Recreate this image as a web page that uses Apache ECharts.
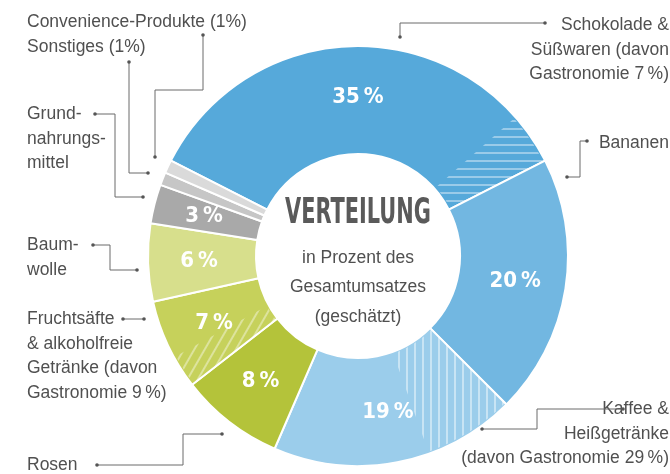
<!DOCTYPE html>
<html>
<head>
<meta charset="utf-8">
<script src="https://cdn.jsdelivr.net/npm/echarts@6/dist/echarts.min.js"></script>
<style>
html,body{margin:0;padding:0;background:#fff;}
#c{width:670px;height:474px;}
</style>
</head>
<body>
<div id="c"></div>
<script>
// ---- data ----
const categories = ['Schokolade & Süßwaren', 'Bananen', 'Kaffee & Heißgetränke', 'Rosen',
  'Fruchtsäfte & alkoholfreie Getränke', 'Baumwolle', 'Grundnahrungsmittel', 'Sonstiges', 'Convenience-Produkte'];
const shares = [35, 20, 19, 8, 7, 6, 3, 1, 1];
// striped "davon Gastronomie" overlay parts (in same angular order)
const overlayParts = [31, 4, 20, 7, 12, 8, 2.5, 4.5, 6, 3, 1, 1];
const overlayStripe = ['', 'h', '', 'v', '', '', 'd', '', '', '', '', ''];

const segColors = ['#56A9DA', '#72B7E1', '#9BCDEB', '#B4C33A', '#C6D15B', '#D7DF8C', '#A9A9A9', '#C6C6C6', '#DADADA'];

const leftLabels = [
  {lines: ['Convenience-Produkte (1%)'], x: 27, y: 22},
  {lines: ['Sonstiges (1%)'], x: 27, y: 47},
  {lines: ['Grund-', 'nahrungs-', 'mittel'], x: 27, y: 114},
  {lines: ['Baum-', 'wolle'], x: 27, y: 245},
  {lines: ['Fruchtsäfte', '& alkoholfreie', 'Getränke (davon', 'Gastronomie 9\u2009%)'], x: 27, y: 319},
  {lines: ['Rosen'], x: 27, y: 465}
];
const rightLabels = [
  {lines: ['Schokolade &', 'Süßwaren (davon', 'Gastronomie 7\u2009%)'], x: 669, y: 25},
  {lines: ['Bananen'], x: 669, y: 143},
  {lines: ['Kaffee &', 'Heißgetränke', '(davon Gastronomie 29\u2009%)'], x: 669, y: 409}
];
const connectors = [
  [[203, 35], [203, 90], [155, 90], [155, 157]],
  [[129, 62], [129, 173], [148, 173]],
  [[95, 114], [115, 114], [115, 197], [143, 197]],
  [[93, 245], [110, 245], [110, 270], [137, 270]],
  [[123, 319], [144, 319]],
  [[97, 465], [183, 465], [183, 434], [222, 434]],
  [[400, 37], [400, 23], [545, 23]],
  [[587, 141], [580, 141], [580, 177], [567, 177]],
  [[482, 429], [537, 429], [537, 409], [623, 409]]
];

const CX = 358, CY = 256, R0 = 102, R1 = 210;
const lineH = 24.8;
const textFont = '17.5px "Liberation Sans", Arial, sans-serif';
const textColor = '#505050';
const condFont = '"DejaVu Sans Condensed", "DejaVu Sans", sans-serif';

const graphics = [];
function addLines(lbl, align) {
  lbl.lines.forEach((t, i) => {
    graphics.push({type: 'text', x: lbl.x, y: lbl.y + i * lineH, silent: true,
      style: {text: t, x: 0, y: 0, align: align, verticalAlign: 'middle', textAlign: align, textVerticalAlign: 'middle',
        font: textFont, fill: textColor}});
  });
}
leftLabels.forEach(l => addLines(l, 'left'));
rightLabels.forEach(l => addLines(l, 'right'));
connectors.forEach(pts => {
  graphics.push({type: 'polyline', silent: true, shape: {points: pts}, style: {stroke: '#6a6a6a', lineWidth: 1, fill: null}});
  [pts[0], pts[pts.length - 1]].forEach(p => {
    graphics.push({type: 'circle', silent: true, shape: {cx: p[0], cy: p[1], r: 1.8}, style: {fill: '#555'}});
  });
});
// center text
graphics.push({type: 'text', x: CX, y: 214, scaleX: 0.86, scaleY: 1.3, silent: true, z: 10,
  style: {text: 'VERTEILUNG', x: 0, y: 0, align: 'center', verticalAlign: 'middle', textAlign: 'center', textVerticalAlign: 'middle',
    font: 'bold 27px ' + condFont, fill: '#5a5a5a'}});
['in Prozent des', 'Gesamtumsatzes', '(geschätzt)'].forEach((t, i) => {
  graphics.push({type: 'text', x: CX, y: 258 + i * 29.5, silent: true, z: 10,
    style: {text: t, x: 0, y: 0, align: 'center', verticalAlign: 'middle', textAlign: 'center', textVerticalAlign: 'middle',
      font: textFont, fill: textColor}});
});

function decalFor(kind) {
  if (kind === 'h') return {symbol: 'rect', dashArrayX: [1, 0], dashArrayY: [2, 6], rotation: 0, color: 'rgba(255,255,255,0.4)'};
  if (kind === 'v') return {symbol: 'rect', dashArrayX: [1, 0], dashArrayY: [2, 6], rotation: Math.PI / 2, color: 'rgba(255,255,255,0.45)'};
  if (kind === 'd') return {symbol: 'rect', dashArrayX: [1, 0], dashArrayY: [2, 7], rotation: -Math.PI / 3, color: 'rgba(255,255,255,0.4)'};
  return null;
}

const chart = echarts.init(document.getElementById('c'), null, {renderer: 'canvas'});
chart.setOption({
  animation: false,
  backgroundColor: '#fff',
  series: [
    {
      type: 'pie',
      center: [CX, CY],
      radius: [R0, R1],
      startAngle: 153,
      clockwise: true,
      avoidLabelOverlap: false,
      silent: true,
      itemStyle: {borderColor: '#fff', borderWidth: 2},
      label: {
        show: true, position: 'inside', color: '#fff',
        fontFamily: condFont,
        fontWeight: 'bold', fontSize: 22,
        formatter: p => p.value >= 3 ? p.value + '\u2009%' : ''
      },
      labelLine: {show: false},
      data: categories.map((n, i) => ({name: n, value: shares[i], itemStyle: {color: segColors[i]}}))
    },
    {
      type: 'pie',
      center: [CX, CY],
      radius: [R0 + 2, R1 - 2],
      startAngle: 153,
      clockwise: true,
      silent: true,
      z: 3,
      label: {show: false},
      labelLine: {show: false},
      itemStyle: {borderWidth: 0},
      data: overlayParts.map((v, i) => {
        const d = decalFor(overlayStripe[i]);
        const it = {value: v, itemStyle: {color: 'rgba(0,0,0,0)'}};
        if (d) it.itemStyle.decal = d;
        return it;
      })
    }
  ],
  graphic: {elements: graphics}
});
</script>
</body>
</html>
